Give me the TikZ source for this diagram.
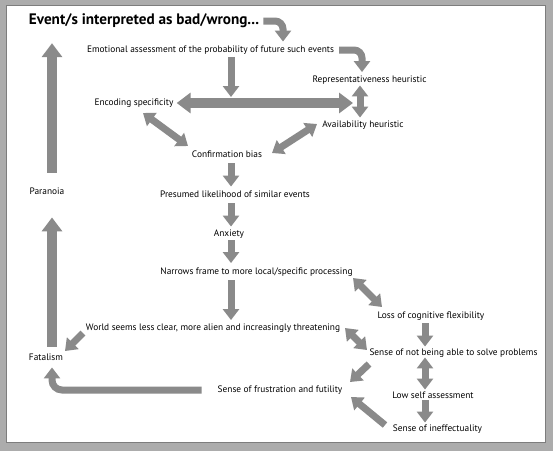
\documentclass[tikz,border=0pt]{standalone}
\usepackage{fontspec}
\setmainfont{PT Sans}
\usetikzlibrary{arrows.meta}
\definecolor{arrgray}{RGB}{138,138,138}
\definecolor{framegray}{RGB}{172,172,172}
\definecolor{framedark}{RGB}{125,125,125}
\begin{document}
\begin{tikzpicture}[x=1pt,y=-1pt,
  lbl/.style={inner sep=0pt, font=\fontsize{9.35}{11}\selectfont, text height=6.5pt, text depth=2pt},
  ttl/.style={inner sep=0pt, font=\fontsize{15.2}{17}\selectfont\bfseries, text height=10pt, text depth=3pt},
  arr/.style={draw=arrgray, line width=7pt, -{Triangle[width=16pt,length=11pt]}},
  darr/.style={draw=arrgray, line width=7pt, {Triangle[width=16pt,length=11pt]}-{Triangle[width=16pt,length=11pt]}},
  bigarr/.style={draw=arrgray, line width=10pt, -{Triangle[width=20pt,length=14pt]}},
  dbigarr/.style={draw=arrgray, line width=10pt, {Triangle[width=20pt,length=14pt]}-{Triangle[width=20pt,length=14pt]}},
]
\fill[framegray] (0,0) rectangle (553,451);
\fill[white] (6,5) rectangle (545,442);
\draw[framedark, line width=1pt] (6,5) rectangle (545,442);
\useasboundingbox (0,0) rectangle (553,451);

\node[ttl] (title) at (144,21) {Event/s interpreted as bad/wrong...};
\node[lbl] (emo) at (210.5,50) {Emotional assessment of the probability of future such events};
\node[lbl] (rep) at (369.5,80) {Representativeness heuristic};
\node[lbl] (enc) at (134,103) {Encoding specificity};
\node[lbl] (avail) at (363,125) {Availability heuristic};
\node[lbl] (conf) at (227,155) {Confirmation bias};
\node[lbl] (pres) at (235,195) {Presumed likelihood of similar events};
\node[lbl] (anx) at (229,234) {Anxiety};
\node[lbl] (narr) at (256.5,272) {Narrows frame to more local/specific processing};
\node[lbl] (world) at (213,328) {World seems less clear, more alien and increasingly threatening};
\node[lbl] (par) at (47,192) {Paranoia};
\node[lbl] (fat) at (46,358) {Fatalism};
\node[lbl] (loss) at (431,316) {Loss of cognitive flexibility};
\node[lbl] (snot) at (453.5,353) {Sense of not being able to solve problems};
\node[lbl] (frus) at (280,390) {Sense of frustration and futility};
\node[lbl] (low) at (433,396) {Low self assessment};
\node[lbl] (ineff) at (437.5,429) {Sense of ineffectuality};

\coordinate (cx) at (231,0);
\coordinate (lx) at (52,0);
\coordinate (rx) at (425,0);
\coordinate (hx) at (360,0);
\coordinate (t1) at (283,0);
\coordinate (t2) at (362,0);
\coordinate (hl) at (353,0);
\coordinate (mid) at (231,97);
\coordinate (e1) at (143,113);
\coordinate (e2) at (188,146);
\coordinate (a1) at (272,153);
\coordinate (a2) at (317,124);
\coordinate (w1) at (83,333);
\coordinate (w2) at (65,351);
\coordinate (n1) at (353,278);
\coordinate (n2) at (382,307);
\coordinate (s1) at (345,328);
\coordinate (s2) at (367,350);
\coordinate (s3) at (369,364);
\coordinate (s4) at (350,382);
\coordinate (i1) at (385,425);
\coordinate (i2) at (351,397);

\draw[arr, rounded corners=8pt, shorten <=4pt, shorten >=4pt] (title.east) -- (title.east -| t1) -- (emo.north -| t1);
\draw[arr, rounded corners=8pt, shorten <=5pt, shorten >=3.5pt] (emo.east) -- (emo.east -| t2) -- (rep.north -| t2);
\draw[arr, shorten <=3pt] (emo.south -| cx) -- (mid);
\draw[dbigarr, shorten <=3pt] (enc.east) -- (enc.east -| hl);
\draw[darr, shorten <=1pt, shorten >=3pt] (rep.south -| hx) -- (avail.north -| hx);
\draw[darr] (e1) -- (e2);
\draw[darr] (a1) -- (a2);
\draw[arr, shorten <=4pt, shorten >=4pt] (conf.south -| cx) -- (pres.north -| cx);
\draw[arr, shorten <=4pt, shorten >=3pt] (pres.south -| cx) -- (anx.north -| cx);
\draw[arr, shorten <=2pt, shorten >=4.5pt] (anx.south -| cx) -- (narr.north -| cx);
\draw[arr, shorten <=4pt, shorten >=3.5pt] (narr.south -| cx) -- (world.north -| cx);
\draw[arr] (w1) -- (w2);
\draw[bigarr, shorten <=7pt, shorten >=21pt] (fat.north -| lx) -- (par.south -| lx);
\draw[bigarr, shorten <=15pt, shorten >=15.5pt] (par.north -| lx) -- (title.south -| lx);
\draw[arr, rounded corners=10pt, shorten <=16pt, shorten >=5pt] (frus.west) -- (frus.west -| lx) -- (fat.south -| lx);
\draw[darr] (n1) -- (n2);
\draw[arr, shorten <=3pt, shorten >=2pt] (loss.south -| rx) -- (snot.north -| rx);
\draw[darr] (s1) -- (s2);
\draw[arr] (s3) -- (s4);
\draw[darr, shorten <=0pt, shorten >=2pt] (snot.south -| rx) -- (low.north -| rx);
\draw[arr, shorten <=0pt, shorten >=2pt] (low.south -| rx) -- (ineff.north -| rx);
\draw[arr] (i1) -- (i2);
\end{tikzpicture}
\end{document}
